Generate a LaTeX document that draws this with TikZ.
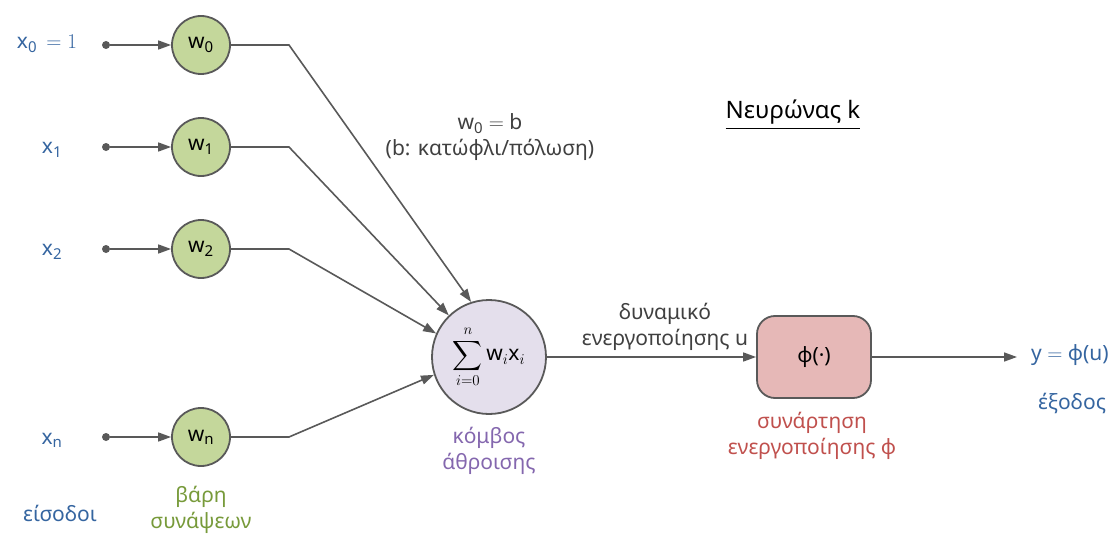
\RequirePackage{fix-cm}
\documentclass[tikz,border=0pt]{standalone}
\usepackage{exscale}
\usepackage{fontspec}
\setmainfont{Noto Sans}
\DeclareMathSizes{21}{21}{15}{11}
\usetikzlibrary{arrows.meta}
\definecolor{edgegray}{HTML}{595959}
\definecolor{wfill}{HTML}{C4D79B}
\definecolor{sfill}{HTML}{E4DFEC}
\definecolor{pfill}{HTML}{E6B8B7}
\definecolor{tblue}{HTML}{3565A0}
\definecolor{tgreen}{HTML}{779A3A}
\definecolor{tpurple}{HTML}{8467AE}
\definecolor{tred}{HTML}{C0504D}
\definecolor{tgray}{HTML}{404040}
\begin{document}
\begin{tikzpicture}[x=1pt,y=-1pt,
  every node/.style={font=\fontsize{21}{26}\selectfont, inner sep=0pt},
  wnode/.style={circle, draw=edgegray, line width=1.8pt, fill=wfill, minimum size=58pt},
  sumnode/.style={circle, draw=edgegray, line width=1.8pt, fill=sfill, minimum size=114pt},
  phinode/.style={rounded corners=18pt, draw=edgegray, line width=1.8pt, fill=pfill, minimum width=114pt, minimum height=82pt},
  dotnode/.style={circle, fill=edgegray, minimum size=8pt},
  conn/.style={draw=edgegray, line width=1.6pt},
  arr/.style={conn, -{Triangle[length=13pt,width=9pt]}},
  lbl/.style={align=center}
]
\useasboundingbox (0,0) rectangle (1117,535);

% input dots
\node[dotnode] (d0) at (106,45) {};
\node[dotnode] (d1) at (106,147) {};
\node[dotnode] (d2) at (106,249) {};
\node[dotnode] (dn) at (106,437) {};

% weights
\node[wnode] (w0) at (201,45) {w\textsubscript{0}};
\node[wnode] (w1) at (201,147) {w\textsubscript{1}};
\node[wnode] (w2) at (201,249) {w\textsubscript{2}};
\node[wnode] (wn) at (201,437) {w\textsubscript{n}};

% bends
\coordinate (b0) at (289,45);
\coordinate (b1) at (289,147);
\coordinate (b2) at (289,249);
\coordinate (bn) at (289,437);

% summation
\node[sumnode] (sum) at (489,357) {$\displaystyle\sum_{i=0}^{n}$\,w$_{i}$x$_{i}$};

% activation
\node[phinode] (phi) at (814,357) {φ(·)};

\coordinate (out) at (1017,357);

% connectors
\draw[arr] (d0) -- (w0);
\draw[arr] (d1) -- (w1);
\draw[arr] (d2) -- (w2);
\draw[arr] (dn) -- (wn);

\draw[arr] (w0) -- (b0) -- (sum.108);
\draw[arr] (w1) -- (b1) -- (sum.134);
\draw[arr] (w2) -- (b2) -- (sum.156);
\draw[arr] (wn) -- (bn) -- (sum.198);

\draw[arr] (sum) -- (phi);
\draw[arr] (phi) -- (out);

% labels
\node[text=tblue] (lx0) at (47,44) {x\textsubscript{0}\,${}={}1$};
\node[text=tblue] (lx1) at (52,150) {x\textsubscript{1}};
\node[text=tblue] (lx2) at (52,252) {x\textsubscript{2}};
\node[text=tblue] (lxn) at (52,440) {x\textsubscript{n}};
\node[text=tblue] (leis) at (60,513) {είσοδοι};
\node[text=tgreen, lbl] (lw) at (201,510) {βάρη\\συνάψεων};
\node[text=tpurple, lbl] (lsum) at (489,451) {κόμβος\\άθροισης};
\node[text=tgray, lbl] (lb) at (490,137) {w\textsubscript{0} $=$ b\\(b: κατώφλι/πόλωση)};
\node[text=black, font=\fontsize{24}{28}\selectfont] (lk) at (793,115) {\underline{Νευρώνας k}};
\node[text=tgray, lbl] (lu) at (665,327) {δυναμικό\\ενεργοποίησης u};
\node[text=tred, lbl] (lphi) at (812,436) {συνάρτηση\\ενεργοποίησης φ};
\node[text=tblue, anchor=west] (ly) at (1031,355) {y $=$ φ(u)};
\node[text=tblue] (lout) at (1072,403) {έξοδος};
\end{tikzpicture}
\end{document}
